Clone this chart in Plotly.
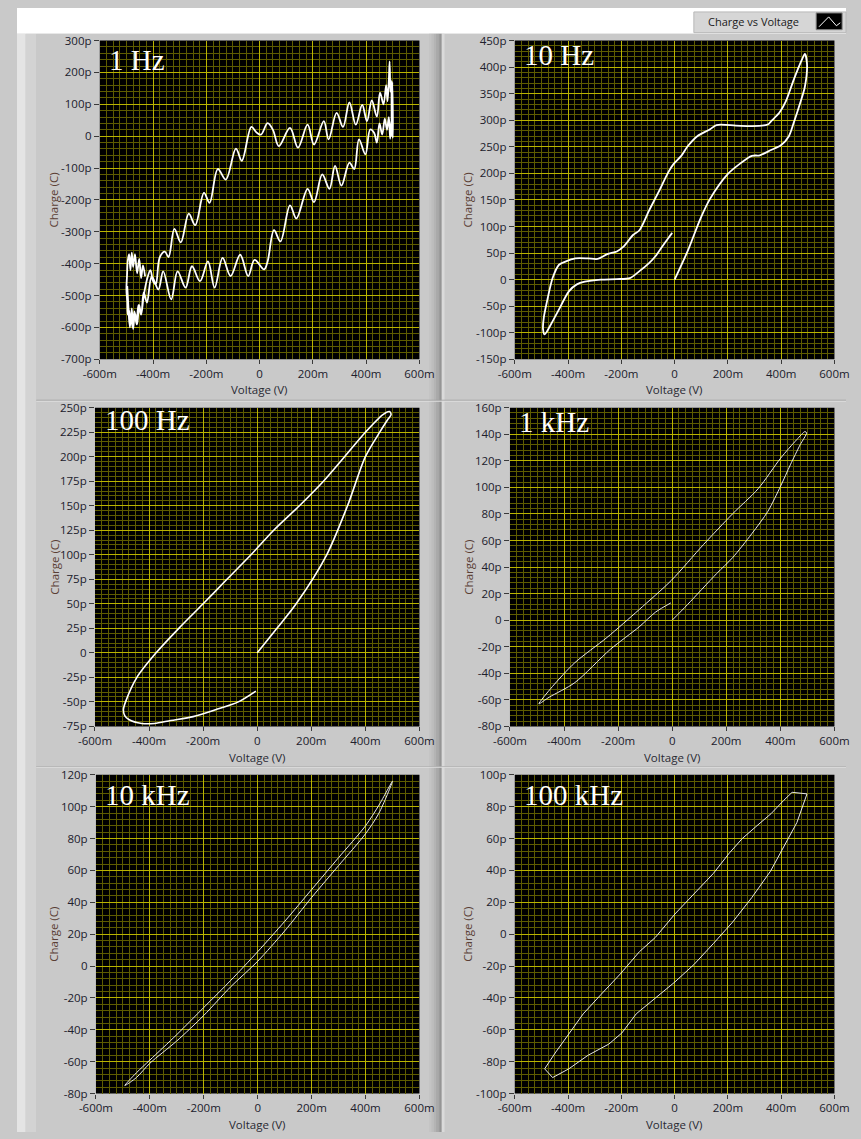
import plotly.graph_objects as go

W, H = 861, 1139

# ---------------- data: voltage (V) and charge (pC) ----------------
# 1 Hz: noisy loop with strong ripple
v_1hz = [-0.43, -0.438, -0.445, -0.452, -0.46, -0.468, -0.475, -0.48, -0.485, -0.49, -0.495, -0.498,
         -0.5, -0.497, -0.495, -0.49, -0.487, -0.48, -0.475, -0.468, -0.46, -0.452, -0.445, -0.435,
         -0.423, -0.41, -0.40, -0.39, -0.375, -0.356, -0.342, -0.32, -0.296, -0.266, -0.242, -0.209,
         -0.188, -0.157, -0.127, -0.089, -0.067, -0.031, -0.012, 0.005, 0.03, 0.05, 0.072, 0.114,
         0.144, 0.18, 0.204, 0.241, 0.259, 0.289, 0.313, 0.337, 0.361, 0.385, 0.403, 0.421, 0.44,
         0.452, 0.465, 0.475, 0.48, 0.485, 0.488, 0.491, 0.494, 0.496, 0.498, 0.5,
         0.495, 0.49, 0.485, 0.478, 0.47, 0.46, 0.45, 0.44, 0.43, 0.415, 0.397, 0.373, 0.355, 0.337,
         0.307, 0.283, 0.262, 0.235, 0.204, 0.18, 0.138, 0.114, 0.078, 0.054, 0.03, 0.017,
         -0.019, -0.043, -0.073, -0.109, -0.139, -0.169, -0.194, -0.224, -0.254, -0.278, -0.308,
         -0.332, -0.362, -0.38, -0.405, -0.423, -0.435, -0.445, -0.455, -0.462, -0.47, -0.477,
         -0.483, -0.488, -0.493, -0.497]
q_1hz = [-440, -405, -445, -385, -430, -370, -410, -365, -420, -370, -390, -440,
         -480, -520, -560, -545, -600, -540, -605, -555, -590, -530, -560, -500,
         -450, -420, -455, -465, -380, -362, -379, -291, -333, -243, -279, -178,
         -209, -103, -136, -39, -77, 29, 12, 5, 41, 20, -31, 26,
         -36, 36, -26, 47, -10, 73, 29, 106, 36, 98, 47, 112, 62,
         137, 100, 160, 110, 175, 235, 140, 175, 0, 170, -5,
         50, -8, 60, 20, 55, 5, 40, -20, 10, 21, -57, -10, -103, -83,
         -155, -93, -165, -120, -207, -165, -258, -217, -330, -295, -393, -418,
         -388, -439, -372, -439, -382, -475, -393, -455, -408, -475, -424,
         -512, -424, -481, -440, -522, -490, -560, -530, -590, -550, -600,
         -560, -595, -530, -470]

# 10 Hz: loop with flat shoulders
v_10hz = [0.0, 0.05, 0.097, 0.133, 0.2, 0.242, 0.29, 0.32, 0.362, 0.399, 0.429, 0.447, 0.471, 0.489,
          0.497, 0.489, 0.477, 0.447, 0.417, 0.393, 0.362, 0.35, 0.29, 0.23, 0.157, 0.133, 0.085,
          0.049, 0.025, -0.005, -0.024, -0.06, -0.096, -0.132, -0.156, -0.192, -0.217, -0.253,
          -0.289, -0.325, -0.373, -0.41, -0.434, -0.458, -0.476, -0.491, -0.494, -0.488, -0.464,
          -0.434, -0.397, -0.367, -0.337, -0.277, -0.217, -0.168, -0.132, -0.096, -0.072, -0.047,
          -0.024, -0.009]
q_10hz = [0, 55, 115, 152, 199, 217, 233, 234, 244, 253, 270, 295, 332, 363,
          406, 425, 413, 376, 335, 314, 298, 292, 289, 290, 291, 283, 270,
          251, 233, 217, 202, 165, 130, 93, 84, 62, 53, 48,
          39, 40, 40, 34, 28, 3, -34, -71, -93, -103, -84,
          -56, -22, -9, -4, 0, 1, 3, 16, 31, 44, 62,
          78, 88]

# 100 Hz
v_100hz = [0.0, 0.073, 0.144, 0.257, 0.334, 0.4, 0.453, 0.483, 0.495, 0.489, 0.465, 0.4, 0.323,
           0.245, 0.156, 0.061, -0.023, -0.112, -0.2, -0.29, -0.374, -0.445, -0.487,
           -0.495, -0.49, -0.475, -0.427, -0.38, -0.32, -0.237, -0.154, -0.07, -0.005]
q_100hz = [0, 25, 50, 100, 150, 200, 225, 238, 243, 246, 243, 225, 200,
           175, 150, 125, 100, 75, 50, 25, 0, -25, -50,
           -58, -64, -68, -72, -72, -69, -65, -58, -50, -39]

# 1 kHz
v_1khz = [0.0, 0.056, 0.164, 0.223, 0.294, 0.354, 0.401, 0.437, 0.473, 0.497, 0.491, 0.461, 0.401,
          0.318, 0.223, 0.116, -0.003, -0.122, -0.241, -0.36, -0.443, -0.493, -0.455, -0.36,
          -0.229, -0.122, -0.062, -0.005]
q_1khz = [0, 11.6, 35, 47, 65, 82, 101, 117, 132, 141, 142, 136, 122,
          99, 80, 57, 30, 8, -13, -32, -50, -63, -58, -47,
          -22, -5, 6, 13]

# 10 kHz: narrow loop
v_10khz = [0.0, 0.1, 0.2, 0.3, 0.4, 0.45, 0.5, 0.45, 0.4, 0.3, 0.2, 0.1, 0.0, -0.1, -0.2, -0.3,
           -0.4, -0.45, -0.493, -0.45, -0.4, -0.3, -0.2, -0.1, 0.0]
q_10khz = [3, 22, 43, 63, 83, 96, 116, 101, 88, 68, 48, 28, 9, -9, -26, -43,
           -59, -67, -75, -70, -61, -47, -31, -13, 3]

# 100 kHz
v_100khz = [0.441, 0.497, 0.459, 0.411, 0.36, 0.29, 0.218, 0.145, 0.073, 0.001, -0.072, -0.144,
            -0.198, -0.247, -0.325, -0.397, -0.458, -0.488, -0.446, -0.391, -0.343, -0.277, -0.204,
            -0.132, -0.072, 0.001, 0.073, 0.145, 0.206, 0.254, 0.302, 0.362, 0.41, 0.441]
q_100khz = [89, 88, 70, 55, 39.5, 23, 7.6, -6, -19, -30, -40, -50,
            -62, -69, -76, -84.5, -90, -84.5, -74, -61, -50, -38, -25,
            -11, -2, 12.6, 25, 38, 51, 60, 67, 75.6, 84, 89]

x_ticks = [-0.6, -0.4, -0.2, 0.0, 0.2, 0.4, 0.6]
x_labels = ["-600m", "-400m", "-200m", "0", "200m", "400m", "600m"]

panels = [
    # label, v, q, y range, y major step, y minor step, line width, line colour, shape, smoothing
    ("1 Hz", v_1hz, q_1hz, (-700, 300), 100, 20, 1.8, "#ffffff", "spline", 1.0),
    ("10 Hz", v_10hz, q_10hz, (-150, 450), 50, 10, 1.8, "#ffffff", "spline", 0.8),
    ("100 Hz", v_100hz, q_100hz, (-75, 250), 25, 5, 1.6, "#ffffff", "spline", 0.8),
    ("1 kHz", v_1khz, q_1khz, (-80, 160), 20, 4, 1.0, "#e8e8e8", "spline", 0.8),
    ("10 kHz", v_10khz, q_10khz, (-80, 120), 20, 4, 1.0, "#e8e8e8", "spline", 0.8),
    ("100 kHz", v_100khz, q_100khz, (-100, 100), 20, 4, 1.0, "#e8e8e8", "linear", 0.8),
]

# plot-area rectangles in pixels: left, top, right, bottom
boxes = [
    (86, 33, 418, 356), (517, 33, 849, 356),
    (81, 405, 418, 728), (512, 405, 849, 728),
    (82, 777, 418, 1100), (517, 777, 849, 1100),
]
label_offsets = [(9, 10), (9, 5), (10, 3), (9, 5), (9, 11), (9, 11)]

MAJOR = "#b9b400"
MINOR = "#5e5c00"
TICKFONT = dict(family="Open Sans", size=11.5, color="#20202c")


def fx(x):
    return x / W


def fy(y):
    return 1 - y / H


fig = go.Figure()
layout = dict(
    width=W, height=H, margin=dict(l=0, r=0, t=0, b=0),
    paper_bgcolor="#c9c9c9", plot_bgcolor="#000000", showlegend=False,
)
annotations = []
shapes = []


def rect(x0, y0, x1, y1, color, line=None, layer="below"):
    shapes.append(dict(
        type="rect", xref="paper", yref="paper", layer=layer,
        x0=fx(x0), x1=fx(x1), y0=fy(y1), y1=fy(y0), fillcolor=color,
        line=dict(width=0) if line is None else line))


# ---- panel frames ----
rect(0, 0, W, 26, "#ffffff")
rect(0, 26, 9, H, "#e4e4e4")
rect(9, 26, 20, H, "#d3d3d3")
for c0, c1 in [(20, 440), (441, W)]:
    for r0, r1 in [(26, 397), (398, 768), (769, H)]:
        rect(c0, r0, c1, r1, "#c9c9c9")
# darker shading toward the right edge of the left column
for i, col in enumerate(["#c4c4c4", "#bdbdbd", "#b4b4b4", "#a9a9a9", "#9c9c9c"]):
    rect(428 + i * 2.4, 26, 430.4 + i * 2.4, H, col)
rect(440, 26, 441, H, "#6e6e6e")
rect(441, 26, 444, H, "#dadada")
for yy in (397, 768):
    rect(20, yy, W, yy + 1, "#a0a0a0")
    rect(20, yy + 1, W, yy + 2, "#dedede")
# black plotting surfaces
for (l, t, r, b) in boxes:
    rect(l, t, r, b, "#000000")

for i, (label, v, q, yr, ymaj, ymin, lw, lc, shp, sm) in enumerate(panels):
    n = "" if i == 0 else str(i + 1)
    l, t, r, b = boxes[i]
    fig.add_trace(go.Scatter(
        x=v, y=q, mode="lines", xaxis="x" + n, yaxis="y" + n,
        line=dict(color=lc, width=lw, shape=shp, smoothing=sm),
        hoverinfo="skip",
    ))
    yticks = list(range(yr[0], yr[1] + 1, ymaj))
    ylabels = [("0" if k == 0 else f"{k}p") for k in yticks]
    layout["xaxis" + n] = dict(
        domain=[fx(l), fx(r)], anchor="y" + n, range=[-0.6, 0.6],
        tickmode="array", tickvals=x_ticks, ticktext=x_labels,
        ticks="outside", ticklen=4, tickwidth=1, tickcolor="#3a3a3a",
        tickfont=TICKFONT, showgrid=True, gridcolor=MAJOR, gridwidth=1,
        zeroline=False, showline=False, fixedrange=True,
        minor=dict(tick0=-0.6, dtick=0.025, showgrid=True, gridcolor=MINOR,
                   gridwidth=1, ticks=""),
    )
    layout["yaxis" + n] = dict(
        domain=[fy(b), fy(t)], anchor="x" + n, range=list(yr),
        tickmode="array", tickvals=yticks, ticktext=ylabels,
        ticks="outside", ticklen=5, tickwidth=1, tickcolor="#3a3a3a",
        tickfont=TICKFONT, showgrid=True, gridcolor=MAJOR, gridwidth=1,
        zeroline=False, showline=False, fixedrange=True,
        minor=dict(tick0=yr[0], dtick=ymin, showgrid=True, gridcolor=MINOR,
                   gridwidth=1, ticks=""),
    )
    ox, oy = label_offsets[i]
    annotations.append(dict(
        text=label, xref="paper", yref="paper", x=fx(l + ox - 2), y=fy(t + oy - 9),
        xanchor="left", yanchor="top", showarrow=False,
        font=dict(family="Liberation Serif", size=29, color="#ffffff"),
    ))
    annotations.append(dict(
        text="Voltage (V)", xref="paper", yref="paper", x=fx((l + r) / 2), y=fy(b + 31),
        xanchor="center", yanchor="middle", showarrow=False,
        font=dict(family="Open Sans", size=11.5, color="#2a2a34"),
    ))
    annotations.append(dict(
        text="Charge (C)", xref="paper", yref="paper", x=fx(468 if l > 440 else 38),
        y=fy((t + b) / 2), xanchor="center", yanchor="middle", showarrow=False, textangle=-90,
        font=dict(family="Open Sans", size=11.5, color="#5a3e34"),
    ))

# ---- plot legend in the top-right corner ----
rect(703, 4, W, 25, "#d6d6d6", line=dict(color="#b8b8b8", width=1))
rect(830, 5, 857, 22, "#000000", line=dict(color="#888888", width=1))
shapes.append(dict(
    type="path", xref="paper", yref="paper", layer="above",
    path=f"M {fx(833)},{fy(19)} L {fx(843)},{fy(9)} L {fx(851)},{fy(18)} L {fx(855)},{fy(15)}",
    line=dict(color="#ffffff", width=1),
))
annotations.append(dict(
    text="Charge vs Voltage", xref="paper", yref="paper", x=fx(765), y=fy(14),
    xanchor="center", yanchor="middle", showarrow=False,
    font=dict(family="Open Sans", size=11, color="#202020"),
))

layout["annotations"] = annotations
layout["shapes"] = shapes
fig.update_layout(**layout)
fig.write_html("out.html")
